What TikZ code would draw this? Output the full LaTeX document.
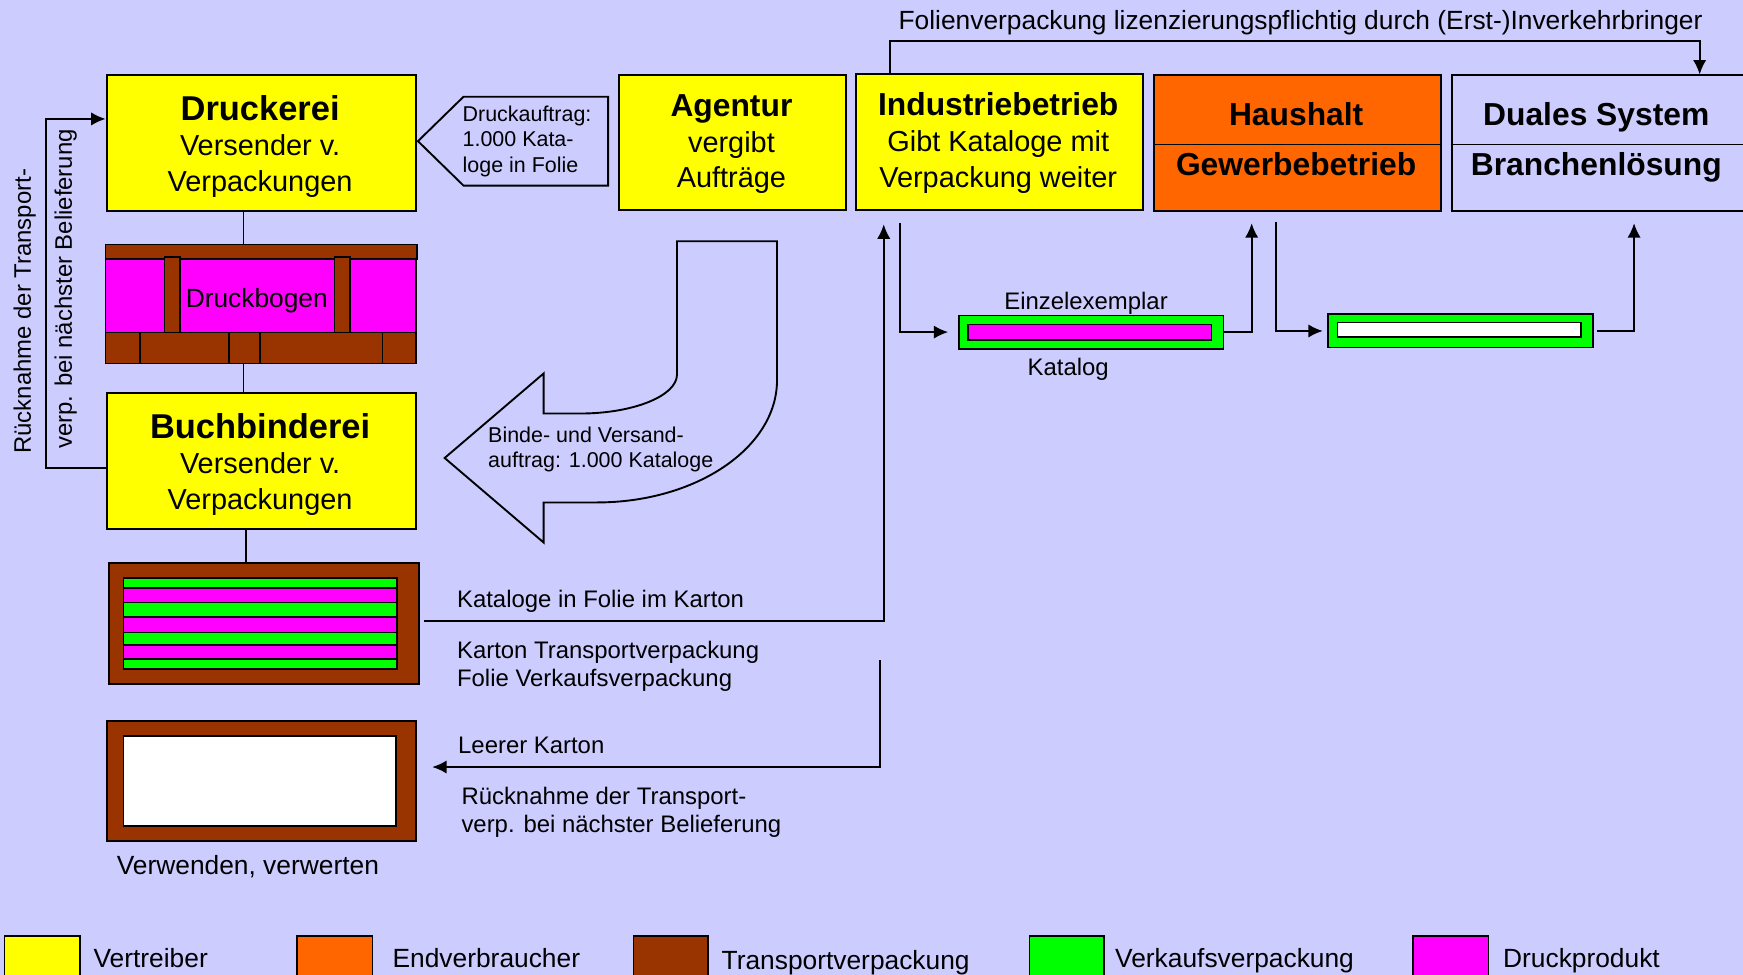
\documentclass[tikz,border=0pt]{standalone}
\usepackage{fontspec}
\setmainfont{Liberation Sans}
\usetikzlibrary{arrows.meta}
\definecolor{bg}{HTML}{CCCCFF}
\definecolor{yel}{HTML}{FFFF00}
\definecolor{ora}{HTML}{FF6600}
\definecolor{brn}{HTML}{993300}
\definecolor{grn}{HTML}{00FF00}
\definecolor{mag}{HTML}{FF00FF}
\begin{document}
\begin{tikzpicture}[x=1pt,y=-1pt,
  box/.style={draw=black, line width=1.8pt, inner sep=0pt, anchor=north west},
  fa/.style={inner sep=0pt, text height=22.2pt, text depth=0pt, font=\fontsize{31}{36}\selectfont\bfseries},
  fb/.style={inner sep=0pt, text height=20.5pt, text depth=0pt, font=\fontsize{28.6}{34}\selectfont\bfseries},
  fc/.style={inner sep=0pt, text height=18.6pt, text depth=0pt, font=\fontsize{26}{31}\selectfont},
  fd/.style={inner sep=0pt, text height=17pt, text depth=0pt, font=\fontsize{23.7}{28}\selectfont},
  fe/.style={inner sep=0pt, text height=15.4pt, text depth=0pt, font=\fontsize{21.5}{26}\selectfont},
  ff/.style={inner sep=0pt, text height=13.8pt, text depth=0pt, font=\fontsize{19.3}{23}\selectfont},
  con/.style={draw=black, line width=1.7pt},
  arr/.style={con, -{Latex[length=13pt,width=12pt]}},
  thin/.style={draw=black, line width=1.4pt}
]
\useasboundingbox (0,0) rectangle (1568,877);
\fill[bg] (0,0) rectangle (1568,877);

% ---- top boxes
\node[box, fill=yel, minimum width=278pt, minimum height=122pt] (druck) at (95,67) {};
\node[fa] (t1) at (234,97) {Druckerei};
\node[fc] (t2) at (234,131) {Versender v.};
\node[fc] (t3) at (234,163) {Verpackungen};

\node[box, fill=yel, minimum width=204pt, minimum height=121pt] (agent) at (556,67) {};
\node[fb] (t4) at (658,95) {Agentur};
\node[fc] (t5) at (658,128) {vergibt};
\node[fc] (t6) at (658,159) {Aufträge};

\node[box, fill=yel, minimum width=258pt, minimum height=122pt] (ind) at (769,66) {};
\node[fb] (t7) at (898,94) {Industriebetrieb};
\node[fc] (t8) at (898,127) {Gibt Kataloge mit};
\node[fc] (t9) at (898,159) {Verpackung weiter};

\node[box, fill=ora, minimum width=258pt, minimum height=122pt] (haus) at (1037,67) {};
\draw[con] (haus.west |- 0,130) -- (haus.east |- 0,130);
\node[fb] (t10) at (1166,103) {Haushalt};
\node[fb] (t11) at (1166,148) {Gewerbebetrieb};

\node[box, fill=bg, minimum width=290pt, minimum height=122pt] (dual) at (1305,67) {};
\draw[con] (dual.west |- 0,130) -- (dual.east |- 0,130);
\node[fb] (t12) at (1436,103) {Duales System};
\node[fb] (t13) at (1436,148) {Branchenlösung};

% top connector
\coordinate (tA) at (801,37);
\coordinate (tB) at (1529,37);
\draw[arr] (ind.north -| tA) -- (tA) -- (tB) -- (dual.north -| tB);
\node[fd] (t14) at (1170,18) {Folienverpackung lizenzierungspflichtig durch (Erst-)Inverkehrbringer};

% Druckauftrag arrow
\draw[con, fill=bg] (376,127) -- (417,87) -- (547,87) -- (547,167) -- (417,167) -- cycle;
\node[ff, anchor=west] (t15) at (416,102) {Druckauftrag:};
\node[ff, anchor=west] (t16) at (416,125) {1.000 Kata-};
\node[ff, anchor=west] (t17) at (416,148) {loge in Folie};

% Druckbogen
\node[anchor=north west, inner sep=0pt, minimum width=280pt, minimum height=107pt] (bogen) at (95,220) {};
\filldraw[thin, fill=mag] (95,233) rectangle (374,299);
\filldraw[thin, fill=brn] (95,220) rectangle (375,233);
\filldraw[thin, fill=brn] (148,231) rectangle (162,299);
\filldraw[thin, fill=brn] (301,231) rectangle (315,299);
\filldraw[thin, fill=brn] (95,299) rectangle (374,327);
\foreach \xx in {126,206,234,344} \draw[thin] (\xx,299) -- (\xx,327);
\node[fd] (t18) at (231,268) {Druckbogen};

\coordinate (v1) at (219,0);
\draw[con] (druck.south -| v1) -- (bogen.north -| v1);

% Buchbinderei
\node[box, fill=yel, minimum width=278pt, minimum height=122pt] (buch) at (95,353) {};
\node[fa] (t19) at (234,383) {Buchbinderei};
\node[fc] (t20) at (234,417) {Versender v.};
\node[fc] (t21) at (234,449) {Verpackungen};
\draw[con] (bogen.south -| v1) -- (buch.north -| v1);

% Karton full
\node[box, fill=brn, minimum width=279pt, minimum height=108pt] (karton) at (97,506) {};
\coordinate (v2) at (221,0);
\draw[con] (buch.south -| v2) -- (karton.north -| v2);
\foreach \ya/\yb/\cc in {520/529/grn,529/542/mag,542/555/grn,555/569/mag,569/580/grn,580/593/mag,593/602/grn}
  \filldraw[thin, fill=\cc] (111,\ya) rectangle (357,\yb);

% empty Karton
\node[box, fill=brn, minimum width=278pt, minimum height=108pt] (leer) at (95,648) {};
\filldraw[thin, fill=white] (111,662) rectangle (356,743);
\node[fd] (t22) at (223,778) {Verwenden, verwerten};

% left return
\coordinate (lA) at (41,107);
\coordinate (lB) at (41,421);
\draw[arr] (buch.west |- lB) -- (lB) -- (lA) -- (druck.west |- lA);
\node[fe, rotate=90] (t23) at (20,280) {Rücknahme der Transport-};
\node[fe, rotate=90] (t24) at (57,260) {verp. bei nächster Belieferung};

% curved big arrow
\draw[con, fill=bg] (609,217) -- (699,217) -- (699,342)
  .. controls (699,403) and (626,452) .. (537,452) -- (489,452) -- (489,488)
  -- (400,412) -- (489,336) -- (489,372) -- (522,372)
  .. controls (570,372) and (609,356) .. (609,337) -- cycle;
\node[ff, anchor=west] (t25) at (439,391) {Binde- und Versand-};
\node[ff, anchor=west] (t26) at (439,414) {auftrag: 1.000 Kataloge};

% Karton -> Industriebetrieb
\coordinate (kA) at (795,559);
\draw[arr, shorten >=12pt] ([xshift=4pt]karton.east |- kA) -- (kA) -- (ind.south -| kA);
\node[fe, anchor=west] (t27) at (411,539) {Kataloge in Folie im Karton};
\node[fe, anchor=west] (t28) at (411,585) {Karton Transportverpackung};
\node[fe, anchor=west] (t29) at (411,610) {Folie Verkaufsverpackung};

% return empty Karton
\coordinate (rA) at (792,594);
\coordinate (rB) at (792,690);
\draw[arr, shorten >=14pt] (rA) -- (rB) -- (leer.east |- rB);
\node[fe, anchor=west] (t30) at (412,670) {Leerer Karton};
\node[fe, anchor=west] (t31) at (415,716) {Rücknahme der Transport-};
\node[fe, anchor=west] (t32) at (415,741) {verp. bei nächster Belieferung};

% Einzelexemplar
\node[anchor=north west, draw=black, line width=1.5pt, fill=grn, inner sep=0pt, minimum width=238pt, minimum height=30pt] (kat1) at (862,283) {};
\filldraw[thin, fill=mag] (871,292) rectangle (1090,306);
\node[fe] (t33) at (977,271) {Einzelexemplar};
\node[fe] (t34) at (961,330) {Katalog};

\node[anchor=north west, draw=black, line width=1.5pt, fill=grn, inner sep=0pt, minimum width=238pt, minimum height=30pt] (kat2) at (1194,282) {};
\filldraw[thin, fill=white] (1203,290) rectangle (1422,303);

\coordinate (iA) at (810,0);
\draw[arr, shorten <=11pt, shorten >=9pt] (ind.south -| iA) |- (kat1.west);
\coordinate (hA) at (1126,0);
\draw[arr, shorten >=10pt] (kat1.east) -| (haus.south -| hA);
\coordinate (hB) at (1148,0);
\draw[arr, shorten <=9pt, shorten >=4pt] (haus.south -| hB) |- (kat2.west);
\coordinate (dA) at (1470,0);
\draw[arr, shorten <=3pt, shorten >=10pt] (kat2.east) -| (dual.south -| dA);

% legend
\filldraw[thin, fill=yel] (4,842) rectangle (72,895);
\filldraw[thin, fill=ora] (267,842) rectangle (335,895);
\filldraw[thin, fill=brn] (570,842) rectangle (637,895);
\filldraw[thin, fill=grn] (926,842) rectangle (993,895);
\filldraw[thin, fill=mag] (1271,842) rectangle (1339,895);
\node[fd, anchor=west] (l1) at (84,862) {Vertreiber};
\node[fd, anchor=west] (l2) at (353,862) {Endverbraucher};
\node[fd, anchor=west] (l3) at (649,864) {Transportverpackung};
\node[fd, anchor=west] (l4) at (1003,862) {Verkaufsverpackung};
\node[fd, anchor=west] (l5) at (1352,862) {Druckprodukt};
\end{tikzpicture}
\end{document}
